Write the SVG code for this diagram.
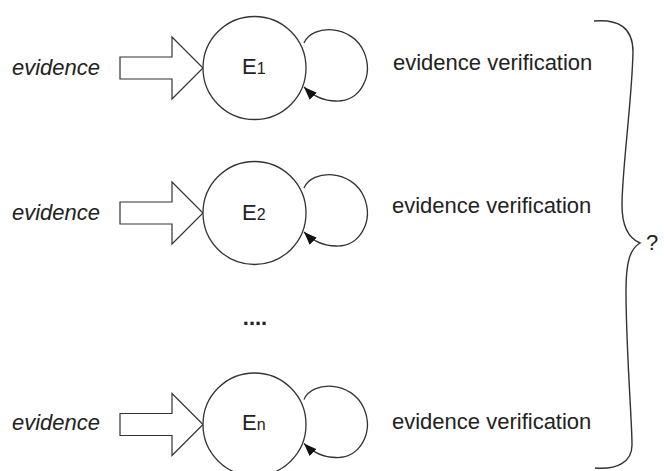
<svg xmlns="http://www.w3.org/2000/svg" width="664" height="471" viewBox="0 0 664 471">
<style>
  .t{font-family:"Liberation Sans",Arial,sans-serif;font-size:22px;fill:#222}
  .it{font-style:italic}
  .sub{font-size:16px}
  .node{fill:#fff;stroke:#333;stroke-width:1.3}
  .big{fill:#fff;stroke:#333;stroke-width:1.2}
  .loop{fill:none;stroke:#333;stroke-width:1.3;marker-end:url(#ah)}
  .brace{fill:none;stroke:#333;stroke-width:1.4}
</style>
<defs>
  <marker id="ah" markerUnits="userSpaceOnUse" markerWidth="14" markerHeight="11" refX="13" refY="5" orient="auto">
    <path d="M0,0 L13,5 L0,10 z" fill="#111"/>
  </marker>
</defs>
<rect width="664" height="471" fill="#fff"/>

<g id="connectors">
  <g transform="translate(0,68)">
    <polygon class="big" points="120,-11 172,-11 172,-31 203,0 172,31 172,11 120,11"/>
    <path class="loop" d="M304,-25 C312,-44 352,-44 364,-16 C374,8 360,34 336,33 C324,33 314,29 304,19"/>
  </g>
  <g transform="translate(0,213)">
    <polygon class="big" points="120,-11 172,-11 172,-31 203,0 172,31 172,11 120,11"/>
    <path class="loop" d="M304,-25 C312,-44 352,-44 364,-16 C374,8 360,34 336,33 C324,33 314,29 304,19"/>
  </g>
  <g transform="translate(0,424.5)">
    <polygon class="big" points="120,-11 172,-11 172,-31 203,0 172,31 172,11 120,11"/>
    <path class="loop" d="M304,-25 C312,-44 352,-44 364,-16 C374,8 360,34 336,33 C324,33 314,29 304,19"/>
  </g>
</g>

<g id="node-e1">
  <circle class="node" cx="254.5" cy="68" r="51.5"/>
  <text class="t" x="242" y="74">E<tspan class="sub">1</tspan></text>
</g>
<g id="node-e2">
  <circle class="node" cx="254.5" cy="213" r="51.5"/>
  <text class="t" x="242" y="220">E<tspan class="sub">2</tspan></text>
</g>
<g id="node-en">
  <circle class="node" cx="254.5" cy="424.5" r="51.5"/>
  <text class="t" x="242" y="430">E<tspan class="sub">n</tspan></text>
</g>

<g id="labels">
  <text class="t it" x="12" y="75">evidence</text>
  <text class="t it" x="12" y="220">evidence</text>
  <text class="t it" x="12" y="430">evidence</text>
  <text class="t" x="393" y="70">evidence verification</text>
  <text class="t" x="392" y="213">evidence verification</text>
  <text class="t" x="392" y="429">evidence verification</text>
  <text class="t" x="255" y="325" text-anchor="middle" font-weight="bold">....</text>
</g>

<g id="brace">
  <path class="brace" d="M594,21 C618,19 633,27 633,52 C632,100 622,170 622,205 C622,225 628,238 640,243 C630,249 626,262 626,290 C626,350 632,420 632,445 C632,462 617,470 595,468"/>
  <text class="t" x="646" y="250">?</text>
</g>
</svg>
